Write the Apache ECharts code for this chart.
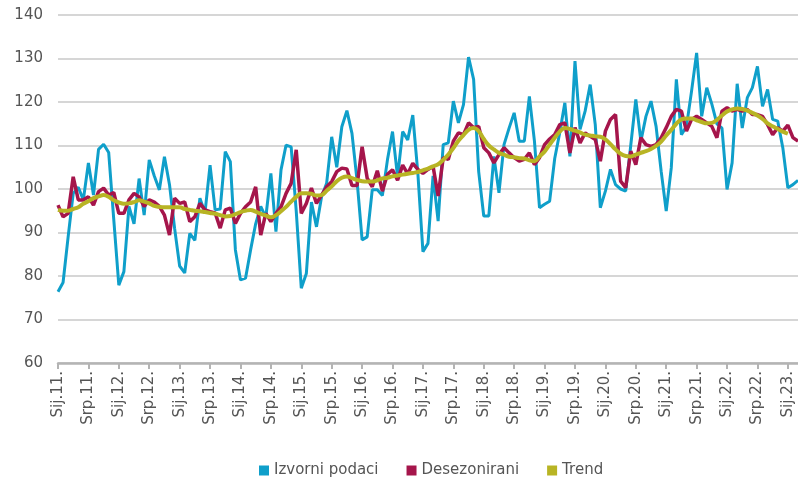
<!DOCTYPE html>
<html><head><meta charset="utf-8">
<script src="https://cdn.jsdelivr.net/npm/echarts@6/dist/echarts.min.js"></script>
<style>html,body{margin:0;padding:0;background:#fff}#c{width:798px;height:481px}</style>
</head><body><div id="c"></div>
<script>
// Croatian month abbreviations used for category labels
const monthNames = ['Sij','Velj','Ožu','Tra','Svi','Lip','Srp','Kol','Ruj','Lis','Stu','Pro'];
const startYear = 2011;
const monthCount = 147; // Jan 2011 .. Mar 2023

const izvorni = [
76.4,78.5,89,99,100.4,97.5,106,98.6,109.1,110.3,108.4,93,
77.9,81,96,92,102.4,94,106.7,103,99.8,107.4,101,91,
82.3,80.7,89.8,88.2,97.9,94.5,105.5,95.2,95.4,108.6,106.3,86,
79.1,79.5,86,92,96,93.5,103.6,90.2,104.4,110.1,109.7,95,
77.2,80.6,97,91.3,98.2,101.3,112,105,114.3,118,112.8,102,
88.3,89,99.8,99.8,98.5,106.7,113.2,102.8,113.2,111.3,117,103.6,
85.6,87.5,103,92.6,110.2,110.6,120.2,115.2,119.4,130.3,125.2,104,
93.8,93.8,107.5,99.1,110.2,114,117.5,111,111,121.3,111,95.7,
96.5,97.2,107,113,119.8,107.5,129.4,113.7,117.9,124,114.8,95.7,
99.5,104.5,101,100,99.5,110,120.6,111,116.7,120.2,114.4,104.1,
94.9,104.9,125.2,112.5,114.4,122.5,131.3,116.7,123.3,119.5,115,114,
99.9,106,124.2,114,121,123.3,128.2,119,122.9,116,115.6,109.5,
100.3,101,102];

const desezonirani = [
96.3,93.6,94.4,102.8,97.5,97.5,98.2,96.3,99.4,100.2,98.6,99.2,
94.4,94.4,97.5,99,98.2,96,97.5,97,96,94,89.4,97.9,
96.7,97,92.5,93.6,96.7,95.2,94.8,94.5,91,95.2,95.6,92.1,
94.4,95.9,97,100.5,89.4,94.4,92.5,94.4,95.9,99,101.3,109,
94.4,96.7,100.2,96.7,98.6,100.5,101.7,104,104.8,104.6,100.8,100.8,
109.7,102.5,100.5,104.2,99.5,103.4,104.4,102,105.5,103.5,105.9,104.5,
103.6,104.5,105.2,98.4,107.2,106.8,111,112.9,112.5,115.2,114.1,114.4,
109.5,108.3,106,107.9,109.5,108.3,107.2,106.4,106.8,108.3,105.6,107.2,
110.2,111.5,112.5,114.8,115.2,108.3,114.1,110.6,112.9,112.1,111.4,106.4,
113.3,116,117.1,101.8,100.3,108.7,105.6,111.8,110.2,109.8,110.2,111.8,
114.1,116.7,118.3,117.9,113.3,116,116.7,116,115.2,114.4,111.8,117.9,
118.7,117.9,118.3,117.9,118.3,117.1,117.1,116.7,114.8,112.5,114.1,113.3,
114.7,111.8,111];

const trend = [
95.2,95.0,95.0,95.4,95.8,96.6,97.2,97.9,98.3,98.6,98.2,97.4,
96.9,96.6,96.7,97.0,97.4,97.1,96.7,96.1,95.9,95.8,95.8,95.8,
95.8,95.4,95.2,95.0,94.9,94.7,94.5,94.3,94.0,93.7,93.8,94.2,
94.7,95.0,95.2,94.8,94.3,93.9,93.5,94.0,94.9,95.9,97.1,98.2,
99.0,99.0,98.9,98.5,98.6,99.6,100.6,101.8,102.6,102.9,102.5,102.1,
101.8,101.7,101.7,102.0,102.4,102.6,102.9,103.1,103.3,103.5,103.7,103.9,
104.3,104.7,105.2,105.7,106.7,107.9,109.4,111.1,112.4,113.6,114.0,113.3,
111.5,110.0,109.1,108.3,107.9,107.4,107.3,107.1,107.0,106.6,106.4,107.5,
108.6,110.2,111.8,113.2,114.0,113.8,113.4,113.0,112.5,112.3,112.1,112.0,
111.4,110.3,109.1,108.1,107.6,107.5,107.9,108.3,108.7,109.2,109.9,110.9,
112.3,113.6,115.0,116.0,116.2,116.2,115.8,115.4,115.1,115.2,115.9,116.9,
117.8,118.3,118.5,118.4,118.0,117.5,116.9,116.1,115.1,114.4,113.8,113.2,
112.7,null,null];

const seriesNames = ['Izvorni podaci','Desezonirani','Trend'];
const yTicks = {min:60, max:140, step:10};

const categories = [];
for (let i = 0; i < monthCount; i++) {
  const y = startYear + Math.floor(i / 12);
  categories.push(monthNames[i % 12] + '.' + String(y % 100).padStart(2, '0') + '.');
}

const FONT = '"DejaVu Sans", sans-serif';
const TXT = '#555555';
const chart = echarts.init(document.getElementById('c'), null, {renderer:'canvas'});
chart.setOption({
  animation: false,
  backgroundColor: '#ffffff',
  grid: {left: 58, right: 0, top: 15, bottom: 118, containLabel: false},
  legend: {
    data: seriesNames,
    left: 254, top: 458,
    icon: 'rect', itemWidth: 10, itemHeight: 10, itemGap: 28,
    textStyle: {fontFamily: FONT, fontSize: 15, color: TXT}
  },
  xAxis: {
    type: 'category', data: categories, boundaryGap: false,
    axisLine: {show: true, lineStyle: {color: '#b4b4b4', width: 2.5}},
    axisTick: {show: true, interval: 5, length: 6, lineStyle: {color: '#b4b4b4', width: 2}},
    axisLabel: {interval: 5, rotate: 90, margin: 8, fontFamily: FONT, fontSize: 15, color: TXT},
    splitLine: {show: false}
  },
  yAxis: {
    type: 'value', min: yTicks.min, max: yTicks.max, interval: yTicks.step,
    axisLine: {show: false}, axisTick: {show: false},
    axisLabel: {margin: 15, fontFamily: FONT, fontSize: 15, color: TXT},
    splitLine: {lineStyle: {color: '#c8c8c8', width: 1.5}}
  },
  series: [
    {name: seriesNames[0], type: 'line', data: izvorni, showSymbol: false, symbol: 'none',
     lineStyle: {color: '#0f9fca', width: 3}, itemStyle: {color: '#0f9fca'}, z: 1},
    {name: seriesNames[1], type: 'line', data: desezonirani, showSymbol: false, symbol: 'none',
     lineStyle: {color: '#a5154b', width: 3.5}, itemStyle: {color: '#a5154b'}, z: 2},
    {name: seriesNames[2], type: 'line', data: trend, showSymbol: false, symbol: 'none', smooth: 0.4,
     lineStyle: {color: '#b8b424', width: 4}, itemStyle: {color: '#b8b424'}, z: 3}
  ]
});
</script></body></html>
